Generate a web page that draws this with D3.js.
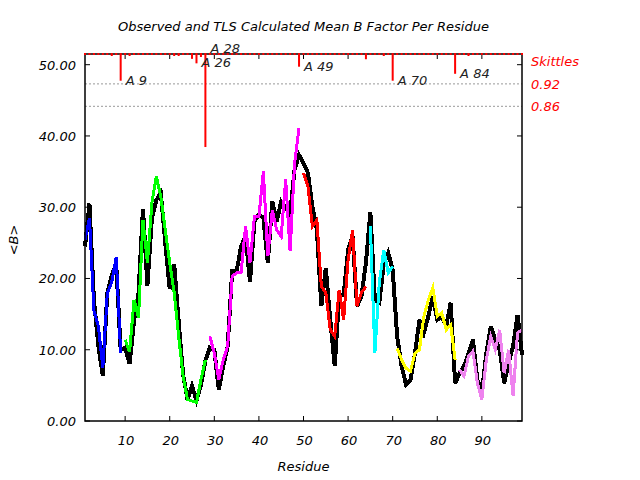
<!DOCTYPE html>
<html>
<head>
    <meta charset="utf-8">
    <title>Mean B Factor Per Residue</title>
    <style type="text/css">
        body {
            margin: 0;
            background: #fff;
        }
        text {
            font-family: "DejaVu Sans", sans-serif;
            font-style: italic;
            font-size: 13px;
        }
    </style>
</head>
<body>
    <script src="https://cdn.jsdelivr.net/npm/d3@7"></script>
    <script>
        // residue numbers 1..99
        var residues = [];
        for (var i = 1; i <= 99; i++) residues.push(i);

        // observed mean B per residue (black)
        var observed = [
            24.5, 30.5, 17.0, 10.5, 6.3, 18.0, 20.5, 22.0, 10.0, 10.3,
            8.0, 14.0, 18.0, 29.8, 19.0, 28.5, 31.0, 32.0, 25.0, 18.5,
            22.0, 14.0, 6.5, 3.0, 4.9, 2.9, 5.0, 8.5, 10.3, 10.0,
            4.4, 7.7, 10.5, 21.0, 21.0, 24.5, 26.0, 19.5, 28.0, 29.0,
            28.5, 22.2, 30.8, 28.0, 30.8, 30.0, 29.0, 35.3, 37.3, 36.2,
            34.8, 30.1, 26.8, 16.1, 21.5, 14.2, 7.7, 17.5, 17.7, 24.0,
            26.0, 16.1, 17.5, 22.2, 29.3, 17.0, 16.6, 22.0, 23.6, 21.2,
            11.9, 7.7, 5.1, 5.8, 9.5, 14.2, 12.4, 14.7, 17.5, 14.2,
            14.7, 13.3, 16.6, 5.3, 6.7, 7.7, 9.5, 11.4, 5.8, 4.0,
            9.5, 13.3, 11.4, 10.0, 5.3, 8.1, 10.5, 14.9, 9.3
        ];

        // TLS calculated mean B, one array per TLS group
        var groupStart = [1, 10, 29, 50, 65, 71, 85];
        var groupColors = ["#0000ff", "#00ff00", "#ff00ff", "#ff0000", "#00ffff", "#ffff00", "#ee82ee"];
        var tlsGroups = [
            [25.4, 28.5, 15.5, 13.3, 7.5, 17.9, 19.5, 23.0, 9.5],
            [11.4, 9.7, 17.0, 14.5, 28.2, 22.2, 30.6, 34.3, 31.5, 26.8,
             22.2, 18.0, 11.9, 6.3, 3.0, 2.8, 2.6, 5.8, 8.6],
            [11.9, 9.5, 5.8, 8.6, 10.5, 20.3, 20.8, 20.8, 27.3, 22.2,
             28.7, 28.7, 35.0, 23.1, 29.6, 26.8, 25.9, 33.9, 23.8, 36.2, 41.1],
            [34.8, 32.9, 27.3, 28.2, 18.9, 18.0, 12.8, 11.9, 18.4, 14.2,
             22.6, 26.8, 16.1, 18.0, 18.9],
            [27.3, 9.5, 19.4, 24.0, 20.8, 21.7],
            [10.2, 8.6, 7.4, 7.0, 9.5, 10.0, 14.7, 17.0, 18.7, 14.7,
             15.2, 12.8, 13.5, 8.6],
            [7.2, 6.3, 9.1, 9.8, 5.3, 3.0, 8.6, 11.9, 10.0, 12.8,
             6.7, 10.0, 3.5, 12.4, 12.8]
        ];

        // skittles: residue, correlation value, label
        var skittleRes = [7, 9, 11, 21, 22, 25, 26, 27, 28, 49, 64, 68, 70, 84, 87];
        var skittleVal = [0.995, 0.9285, 0.995, 0.995, 0.995, 0.987, 0.975, 0.992, 0.751, 0.966, 0.986, 0.995, 0.9285, 0.947, 0.995];
        var skittleLabels = ["A 9", "A 26", "A 28", "A 49", "A 70", "A 84"];
        var skittleLabelRes = [9, 26, 28, 49, 70, 84];
        var skittleRefs = [0.92, 0.86];

        var yTicks = [0, 10, 20, 30, 40, 50];
        var xTicks = [10, 20, 30, 40, 50, 60, 70, 80, 90];

        var margin = {top: 54, right: 118, bottom: 59, left: 85},
            width = 640 - margin.left - margin.right,
            height = 480 - margin.top - margin.bottom;

        var x = d3.scaleLinear().domain([1, 99]).range([0, width]);
        var y = d3.scaleLinear().domain([0, 51.5]).range([height, 0]);
        var sk = d3.scaleLinear().domain([1.0, 0.86]).range([0, 52.3]);

        var svg = d3.select("body").append("svg")
            .attr("width", 640)
            .attr("height", 480);

        svg.append("text")
            .attr("x", margin.left + width / 2)
            .attr("y", 31)
            .attr("text-anchor", "middle")
            .text("Observed and TLS Calculated Mean B Factor Per Residue");

        var g = svg.append("g")
            .attr("transform", "translate(" + margin.left + "," + margin.top + ")");

        // reference lines for skittles
        g.selectAll(".ref")
            .data(skittleRefs)
            .enter().append("line")
            .attr("x1", 0).attr("x2", width)
            .attr("y1", function (d) { return sk(d); })
            .attr("y2", function (d) { return sk(d); })
            .attr("stroke", "#999")
            .attr("stroke-dasharray", "2,2");

        var line = d3.line()
            .x(function (d) { return x(d[0]); })
            .y(function (d) { return y(d[1]); });

        g.append("path")
            .datum(residues.map(function (r, i) { return [r, observed[i]]; }))
            .attr("d", line)
            .attr("fill", "none")
            .attr("stroke", "#000")
            .attr("stroke-width", 4)
            .attr("shape-rendering", "crispEdges");

        tlsGroups.forEach(function (vals, gi) {
            g.append("path")
                .datum(vals.map(function (v, i) { return [groupStart[gi] + i, v]; }))
                .attr("d", line)
                .attr("fill", "none")
                .attr("stroke", groupColors[gi])
                .attr("stroke-width", 3)
                .attr("shape-rendering", "crispEdges");
        });

        // frame
        g.append("rect")
            .attr("width", width)
            .attr("height", height)
            .attr("fill", "none")
            .attr("stroke", "#000")
            .attr("stroke-width", 1.5);

        // inward ticks on all four sides
        var tl = 5;
        g.selectAll(".ytl").data(yTicks).enter().append("line")
            .attr("x1", 0).attr("x2", tl)
            .attr("y1", function (d) { return y(d); }).attr("y2", function (d) { return y(d); })
            .attr("stroke", "#000");
        g.selectAll(".ytr").data(yTicks).enter().append("line")
            .attr("x1", width - tl).attr("x2", width)
            .attr("y1", function (d) { return y(d); }).attr("y2", function (d) { return y(d); })
            .attr("stroke", "#000");
        g.selectAll(".xtb").data(xTicks).enter().append("line")
            .attr("x1", function (d) { return x(d); }).attr("x2", function (d) { return x(d); })
            .attr("y1", height - tl).attr("y2", height)
            .attr("stroke", "#000");
        g.selectAll(".xtt").data(xTicks).enter().append("line")
            .attr("x1", function (d) { return x(d); }).attr("x2", function (d) { return x(d); })
            .attr("y1", 0).attr("y2", tl)
            .attr("stroke", "#000");

        g.selectAll(".ylab").data(yTicks).enter().append("text")
            .attr("x", -9)
            .attr("y", function (d) { return y(d) + 5; })
            .attr("text-anchor", "end")
            .text(function (d) { return d.toFixed(2); });

        g.selectAll(".xlab").data(xTicks).enter().append("text")
            .attr("x", function (d) { return x(d) + 1; })
            .attr("y", height + 24)
            .attr("text-anchor", "middle")
            .text(function (d) { return d; });

        svg.append("text")
            .attr("x", margin.left + width / 2)
            .attr("y", 471)
            .attr("text-anchor", "middle")
            .text("Residue");

        svg.append("text")
            .attr("transform", "translate(18,240) rotate(-90)")
            .attr("text-anchor", "middle")
            .text("<B>");

        // skittles: small red dot for every residue along the top, then the bars
        g.selectAll(".dot").data(residues).enter().append("rect")
            .attr("x", function (d) { return x(d) - 1; })
            .attr("y", -1)
            .attr("width", 2)
            .attr("height", 2)
            .attr("fill", "#ff0000");

        g.selectAll(".skittle")
            .data(skittleRes)
            .enter().append("rect")
            .attr("x", function (d) { return x(d) - 1; })
            .attr("y", 0)
            .attr("width", 2)
            .attr("height", function (d, i) { return Math.max(2, sk(skittleVal[i])); })
            .attr("fill", "#ff0000");

        var lastRight = -100;
        skittleLabels.forEach(function (lab, i) {
            var r = skittleLabelRes[i];
            var v = skittleVal[skittleRes.indexOf(r)];
            var lx = x(r) + 5;
            var ly = sk(v) + 4;
            if (lx < lastRight) ly = -1.5; // crowded, push it up
            g.append("text")
                .attr("x", lx)
                .attr("y", ly)
                .attr("fill", "#222")
                .text(lab);
            lastRight = lx + 28;
        });

        var side = svg.append("g")
            .attr("transform", "translate(" + (margin.left + width + 9) + "," + margin.top + ")")
            .attr("fill", "#ff0000");
        side.append("text").attr("y", 12).text("Skittles");
        side.selectAll(".rl").data(skittleRefs).enter().append("text")
            .attr("y", function (d) { return sk(d) + 5; })
            .text(function (d) { return d.toFixed(2); });
    </script>
</body>
</html>
